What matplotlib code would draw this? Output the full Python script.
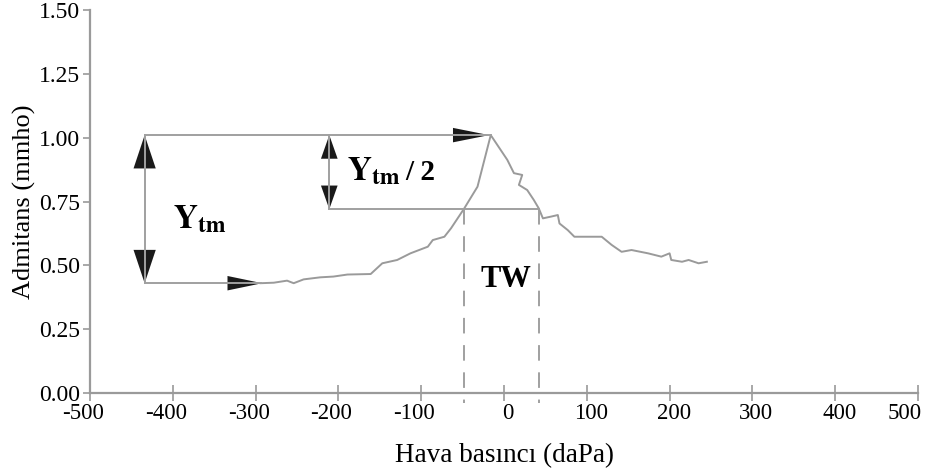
import numpy as np
import matplotlib
matplotlib.use("Agg")
import matplotlib.pyplot as plt
import matplotlib.transforms as mtransforms
from matplotlib.patches import FancyArrowPatch

# ----------------------------------------------------------
# data
# ----------------------------------------------------------
pressure = [-294, -278, -262, -254, -242, -222, -206, -189, -161, -147, -129,
            -113, -92, -86, -72, -64, -56, -48, -32, -16, 4, 12, 22, 18, 28,
            36, 42, 47, 57, 65, 67, 77, 85, 118, 130, 142, 154, 174, 190, 200,
            202, 215, 223, 235, 245]
admittance = [0.43, 0.432, 0.44, 0.43, 0.445, 0.453, 0.456, 0.464, 0.466,
              0.508, 0.521, 0.547, 0.573, 0.599, 0.612, 0.645, 0.684, 0.723,
              0.808, 1.01, 0.913, 0.861, 0.854, 0.815, 0.795, 0.756, 0.723,
              0.684, 0.691, 0.697, 0.664, 0.638, 0.612, 0.612, 0.58, 0.553,
              0.56, 0.547, 0.534, 0.547, 0.521, 0.514, 0.521, 0.508, 0.514]

x_ticks = [-500, -400, -300, -200, -100, 0, 100, 200, 300, 400, 500]
y_ticks = [0.00, 0.25, 0.50, 0.75, 1.00, 1.25, 1.50]

ytm_x = -434        # big double arrow
half_x = -211       # small double arrow
tw_left, tw_right = -48, 42

peak_i = int(np.argmax(admittance))
peak_x, peak_y = pressure[peak_i], admittance[peak_i]
base_x, base_y = pressure[0], admittance[0]
half_y = base_y + (peak_y - base_y) / 2

# ----------------------------------------------------------
# figure
# ----------------------------------------------------------
plt.rcParams["font.family"] = ["Liberation Serif", "DejaVu Serif"]
plt.rcParams["mathtext.fontset"] = "stix"

fig = plt.figure(figsize=(9.3, 4.72), dpi=100)
ax = fig.add_axes([90 / 930, 1 - 393 / 472, 828 / 930, 383 / 472])

line_grey = "#a0a0a0"
curve_grey = "#9a9a9a"
head_col = "#1a1a1a"

ax.plot(pressure, admittance, color=curve_grey, lw=1.4)

# guide lines
ax.plot([ytm_x, peak_x], [peak_y, peak_y], color=line_grey, lw=1.4)
ax.plot([ytm_x, base_x], [base_y, base_y], color=line_grey, lw=1.4)
ax.plot([ytm_x, ytm_x], [base_y, peak_y], color=line_grey, lw=1.4)
ax.plot([half_x, half_x], [half_y, peak_y], color=line_grey, lw=1.4)
ax.plot([half_x, tw_right], [half_y, half_y], color=line_grey, lw=1.4)
for xv in (tw_left, tw_right):
    ax.plot([xv, xv], [half_y, -0.04], color=line_grey, lw=1.4,
            dashes=(8, 6), clip_on=False)


def head(tip, back, hl, hw):
    a = FancyArrowPatch(back, tip, arrowstyle=f"-|>,head_length={hl},head_width={hw}",
                        mutation_scale=1, color=head_col, lw=0,
                        shrinkA=0, shrinkB=0)
    ax.add_patch(a)


# arrow heads (back point placed one head length before the tip)
px_x = 1000 / 828   # data units per pixel, x
px_y = 1.5 / 383    # data units per pixel, y
head((peak_x - 2, peak_y), (peak_x - 2 - 36 * px_x, peak_y), 26, 5.2)
head((base_x + 2, base_y), (base_x + 2 - 34 * px_x, base_y), 25, 5.2)
head((ytm_x, peak_y), (ytm_x, peak_y - 33 * px_y), 24, 8)
head((ytm_x, base_y), (ytm_x, base_y + 33 * px_y), 24, 8)
head((half_x, peak_y), (half_x, peak_y - 24 * px_y), 17, 6)
head((half_x, half_y), (half_x, half_y + 24 * px_y), 17, 6)

# labels
ax.text(-400, 0.646, r"$\mathbf{Y}_{\mathbf{tm}}$", fontsize=24,
        ha="left", va="baseline")
ax.text(-190, 0.834, r"$\mathbf{Y}_{\mathbf{tm}}$", fontsize=24,
        ha="left", va="baseline")
ax.text(-119, 0.834, "/ 2", fontsize=21, fontweight="bold",
        ha="left", va="baseline")
ax.text(-28, 0.415, "TW", fontsize=22, fontweight="bold",
        ha="left", va="baseline")

# axes
ax.set_xlim(-500, 500)
ax.set_ylim(0, 1.5)
ax.set_xticks(x_ticks)
ax.set_xticklabels([str(v) for v in x_ticks])
ax.set_yticks(y_ticks)
ax.set_yticklabels([f"{v:.2f}" for v in y_ticks])
for s in ("top", "right"):
    ax.spines[s].set_visible(False)
for s in ("left", "bottom"):
    ax.spines[s].set_color("#9a9a9a")
    ax.spines[s].set_linewidth(1.6)
ax.tick_params(axis="x", direction="inout", length=12, width=1.2,
               color="#9a9a9a", labelsize=16.5, pad=1)
ax.tick_params(axis="y", direction="out", length=5, width=1.2,
               color="#9a9a9a", labelsize=17, pad=2)

# nudge x tick labels as in the reference (minus sign hangs left)
for v, lab in zip(x_ticks, ax.get_xticklabels()):
    dx = -7 if v < 0 else 4
    if v == x_ticks[-1]:
        dx = -13
    off = mtransforms.ScaledTranslation(dx / 100, 0, fig.dpi_scale_trans)
    lab.set_transform(lab.get_transform() + off)

ax.set_xlabel("Hava basıncı (daPa)", fontsize=19.5, labelpad=14)
ax.set_ylabel("Admitans (mmho)", fontsize=19, labelpad=2)

fig.savefig("out.png", dpi=100)
